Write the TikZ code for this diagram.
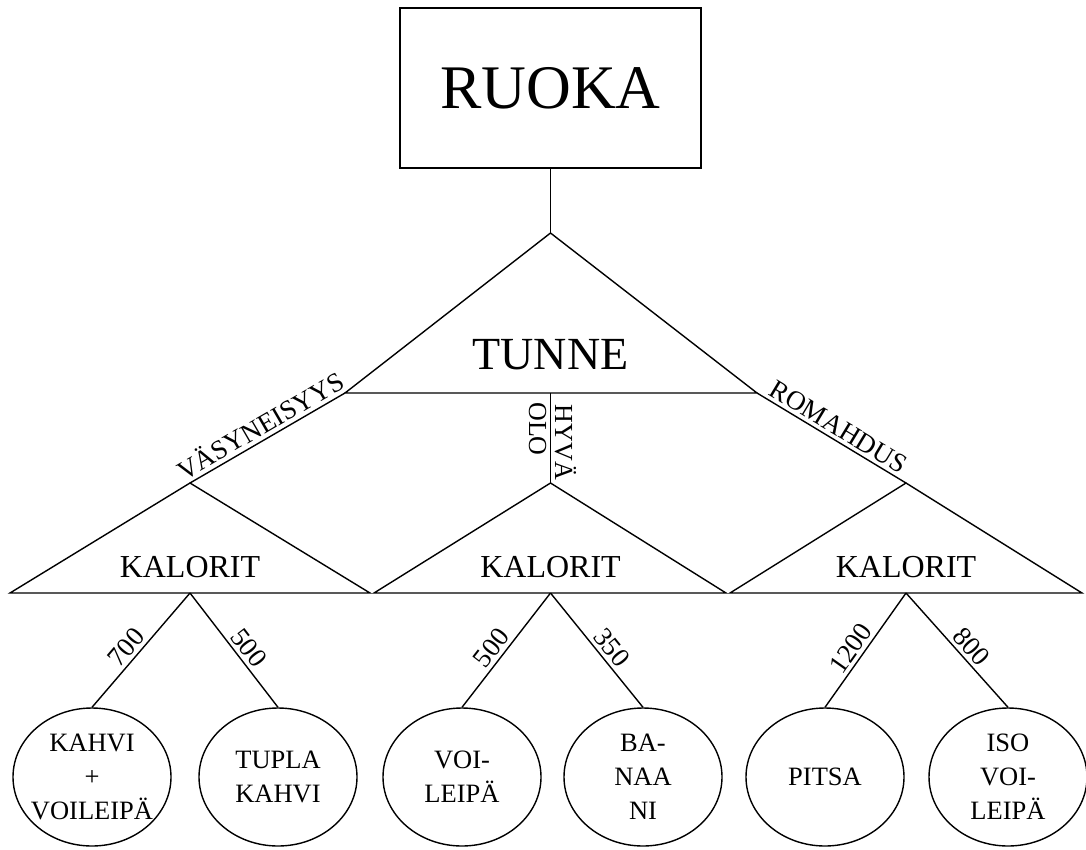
\documentclass[tikz,border=0pt]{standalone}
\usepackage{fontspec}
\setmainfont{Liberation Serif}
\usetikzlibrary{shapes.geometric}

\tikzset{
  line/.style={line width=1.4pt},
  topbox/.style={draw,line width=1.4pt,minimum width=301pt,minimum height=160pt,inner sep=0pt,font=\fontsize{62}{62}\selectfont},
  leaf/.style={draw,ellipse,line width=1.4pt,minimum width=158pt,minimum height=138pt,inner xsep=-6pt,inner ysep=0pt,align=center,font=\fontsize{26.5}{34}\selectfont},
  lab/.style={sloped,above,inner sep=3.5pt,font=\fontsize{27}{27}\selectfont},
  kal/.style={font=\fontsize{32}{32}\selectfont},
}

\begin{document}
\begin{tikzpicture}[x=1pt,y=-1pt]
\useasboundingbox (0,0) rectangle (1086,849);

% RUOKA
\node[topbox] (ruoka) at (550.5,88) {RUOKA};

% TUNNE triangle
\coordinate (t0) at (550.5,233);
\coordinate (tL) at (345,393);
\coordinate (tR) at (757,393);
\coordinate (tM) at (550.5,393);
\draw[line] (ruoka.south)--(t0);
\draw[line] (t0)--(tL)--(tR)--cycle;
\node[font=\fontsize{46}{46}\selectfont] (tunne) at (550.5,355) {TUNNE};

% KALORIT triangles
\coordinate (k1) at (190,483);  \coordinate (k1L) at (10,593);  \coordinate (k1R) at (370,593);  \coordinate (k1M) at (190,593);
\coordinate (k2) at (550.5,483);\coordinate (k2L) at (374,593); \coordinate (k2R) at (726,593);  \coordinate (k2M) at (550.5,593);
\coordinate (k3) at (906,483);  \coordinate (k3L) at (730,593); \coordinate (k3R) at (1082,593); \coordinate (k3M) at (906,593);
\draw[line] (k1)--(k1L)--(k1R)--cycle;
\draw[line] (k2)--(k2L)--(k2R)--cycle;
\draw[line] (k3)--(k3L)--(k3R)--cycle;
\node[kal] (kal1) at (190,567) {KALORIT};
\node[kal] (kal2) at (550.5,567) {KALORIT};
\node[kal] (kal3) at (906,567) {KALORIT};

\draw[line] (tL) -- node[lab] {VÄSYNEISYYS} (k1);
\draw[line] (tM) -- node[lab,pos=0.55,font=\fontsize{26}{26}\selectfont] {HYVÄ}
  node[lab,below,pos=0.4,font=\fontsize{26}{26}\selectfont] {OLO} (k2);
\draw[line] (tR) -- node[lab] {ROMAHDUS} (k3);

% leaves
\node[leaf] (e1) at (92,777)   {KAHVI\\+\\VOILEIPÄ};
\node[leaf] (e2) at (278,777)  {TUPLA\\KAHVI};
\node[leaf] (e3) at (462,777)  {VOI-\\LEIPÄ};
\node[leaf] (e4) at (643,777)  {BA-\\NAA\\NI};
\node[leaf] (e5) at (825,777)  {PITSA};
\node[leaf] (e6) at (1008,777) {ISO\\VOI-\\LEIPÄ};

\draw[line] (k1M) -- node[lab,pos=0.55] {700} (e1.north);
\draw[line] (k1M) -- node[lab,pos=0.55] {500} (e2.north);
\draw[line] (k2M) -- node[lab,pos=0.55] {500} (e3.north);
\draw[line] (k2M) -- node[lab,pos=0.55] {350} (e4.north);
\draw[line] (k3M) -- node[lab,pos=0.55] {1200} (e5.north);
\draw[line] (k3M) -- node[lab,pos=0.55] {800} (e6.north);

\end{tikzpicture}
\end{document}
